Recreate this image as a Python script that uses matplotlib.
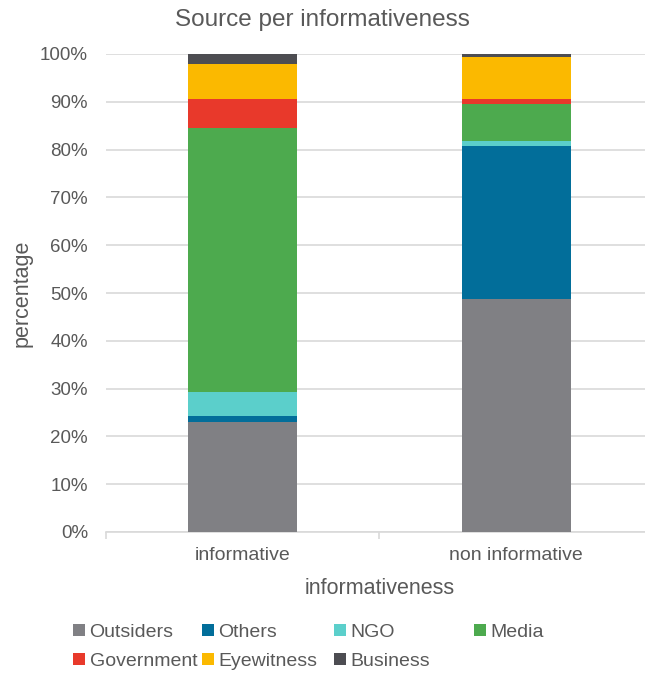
import numpy as np
import matplotlib
matplotlib.use('Agg')
import matplotlib.pyplot as plt
from matplotlib.ticker import PercentFormatter

plt.rcParams.update({
    'font.family': ['Liberation Sans', 'DejaVu Sans'],
    'text.color': '#595959', 'axes.labelcolor': '#595959',
    'xtick.color': '#595959', 'ytick.color': '#595959',
})

# Share of each source (%) per informativeness group
groups = ['informative', 'non informative']
sources = ['Outsiders', 'Others', 'NGO', 'Media', 'Government', 'Eyewitness', 'Business']
shares = {
    'Outsiders':  [23.0, 48.7],
    'Others':     [1.2, 32.0],
    'NGO':        [5.0, 1.1],
    'Media':      [55.4, 7.7],
    'Government': [6.0, 1.1],
    'Eyewitness': [7.3, 8.7],
    'Business':   [2.1, 0.7],
}
colors = {
    'Outsiders': '#808084', 'Others': '#026e9a', 'NGO': '#5bcfcb',
    'Media': '#4daa4e', 'Government': '#e8392b', 'Eyewitness': '#fbb900',
    'Business': '#4d4d52',
}

fig = plt.figure(figsize=(6.45, 6.75), dpi=100)
ax = fig.add_axes([106 / 645, 1 - 532 / 675, 547 / 645, 478 / 675])

x = np.arange(len(groups))
bottom = np.zeros(len(groups))
handles = {}
for s in sources:
    vals = np.array(shares[s]) / 100
    handles[s] = ax.bar(x, vals, 0.4, bottom=bottom, color=colors[s],
                        label=s, zorder=3, linewidth=0)
    bottom += vals

ax.set_xlim(-0.5, 1.5)
ax.set_ylim(0, 1)
ax.set_yticks(np.arange(0, 1.01, 0.1))
ax.yaxis.set_major_formatter(PercentFormatter(1.0, decimals=0))
ax.grid(True, axis='y', color='#d9d9d9', linewidth=1.2, zorder=0)
for side in ['left', 'right', 'top']:
    ax.spines[side].set_visible(False)
ax.spines['bottom'].set_color('#d9d9d9')
ax.spines['bottom'].set_linewidth(1.2)
ax.tick_params(axis='y', length=0, labelsize=13.5, pad=13)
ax.set_xticks(x)
ax.set_xticklabels(groups)
ax.tick_params(axis='x', which='major', length=0, labelsize=14, pad=11)
ax.set_xticks([-0.5, 0.5, 1.5], minor=True)
ax.tick_params(axis='x', which='minor', length=5, color='#d9d9d9', width=1.2)

ax.set_ylabel('percentage', fontsize=15.5, labelpad=5)
ax.set_xlabel('informativeness', fontsize=15.5, labelpad=10)
fig.text(322 / 645, 1 - 20 / 675, 'Source per informativeness',
         fontsize=17.5, ha='center', va='center')

# legend: one small legend per column, two rows
columns = [['Outsiders', 'Government'], ['Others', 'Eyewitness'],
           ['NGO', 'Business'], ['Media']]
col_x = [73, 202, 334, 474]
for names, cx in zip(columns, col_x):
    leg = fig.legend([handles[s] for s in names], names, frameon=False,
                     loc='upper left', bbox_to_anchor=(cx / 645, 1 - 624 / 675),
                     fontsize=14, handlelength=0.6, handleheight=0.6,
                     handletextpad=0.25, labelspacing=0.6, borderpad=0,
                     borderaxespad=0)

fig.savefig('out.png', dpi=100)
